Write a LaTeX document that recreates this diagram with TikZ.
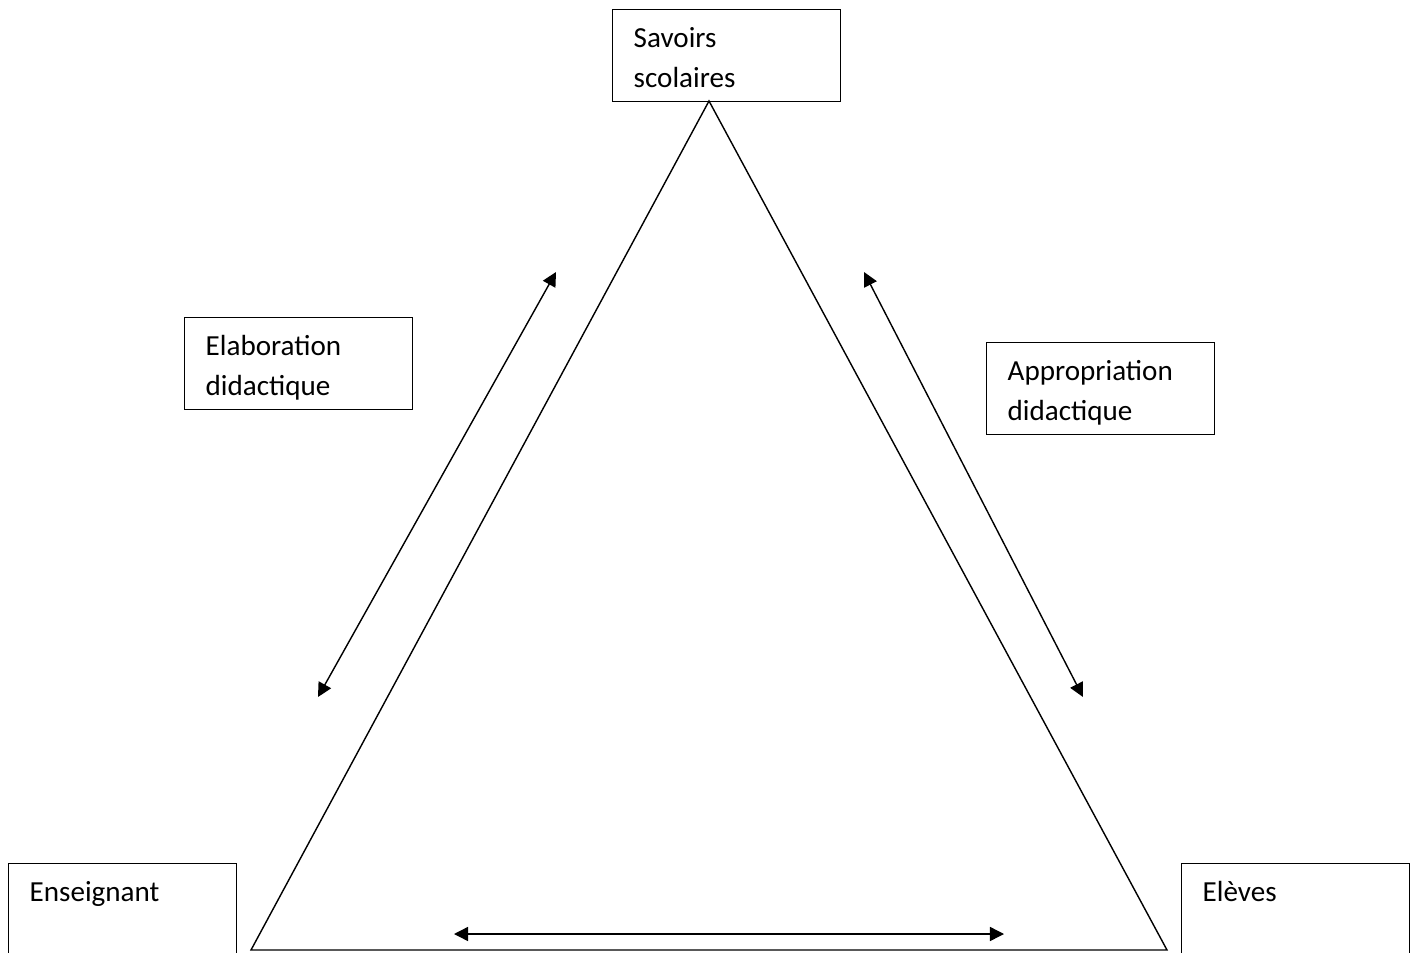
\documentclass[tikz,border=0pt]{standalone}
\usepackage{fontspec}
\setmainfont{Carlito}
\usetikzlibrary{calc,arrows.meta}
\tikzset{>={Triangle[length=10pt,width=10pt]}}
\tikzset{
  cadre/.style={draw,line width=1pt,minimum width=5.7cm,minimum height=2.3cm,anchor=north west,inner sep=0pt},
  texte/.style={anchor=base west,inner sep=0pt,font=\fontsize{20.7pt}{28.4pt}\selectfont},
}

\begin{document}
\begin{tikzpicture}[x=0.025cm,y=-0.025cm,line width=1pt]
        \clip (0,0) rectangle (1416,953);
        % les trois poles
        \node[cadre] (savoirs) at (612,9) {};
        \node[cadre] (enseignant) at (8,863) {};
        \node[cadre] (eleves) at (1181,863) {};
        \node[texte] (tsavoirs) at ($(savoirs.north west)+(21,38.5)$) {\parbox[t]{5cm}{Savoirs\\scolaires}};
        \node[texte] (tenseignant) at ($(enseignant.north west)+(21,38.5)$) {Enseignant};
        \node[texte] (televes) at ($(eleves.north west)+(21,38.5)$) {Elèves};
        % les deux processus
        \node[cadre] (elaboration) at (184,317) {};
        \node[cadre] (appropriation) at (986,342) {};
        \node[texte] (telaboration) at ($(elaboration.north west)+(21,38.5)$) {\parbox[t]{5cm}{Elaboration\\didactique}};
        \node[texte] (tappropriation) at ($(appropriation.north west)+(21,38.5)$) {\parbox[t]{5cm}{Appropriation\\didactique}};
        % triangle
        \coordinate (sommet) at (709,101);
        \coordinate (gauche) at (251,950);
        \coordinate (droite) at (1167,950);
        \draw (sommet) -- (gauche) -- (droite) -- cycle;
        % fleches
        \coordinate (g1) at (318,697);
        \coordinate (g2) at (556,272);
        \coordinate (d1) at (864,272);
        \coordinate (d2) at (1083,697);
        \coordinate (b1) at (454,934);
        \coordinate (b2) at (1004,934);
        \draw[<->] (g1) -- (g2);
        \draw[<->] (d1) -- (d2);
        \draw[<->] (b1) -- (b2);
      \end{tikzpicture}
\end{document}
